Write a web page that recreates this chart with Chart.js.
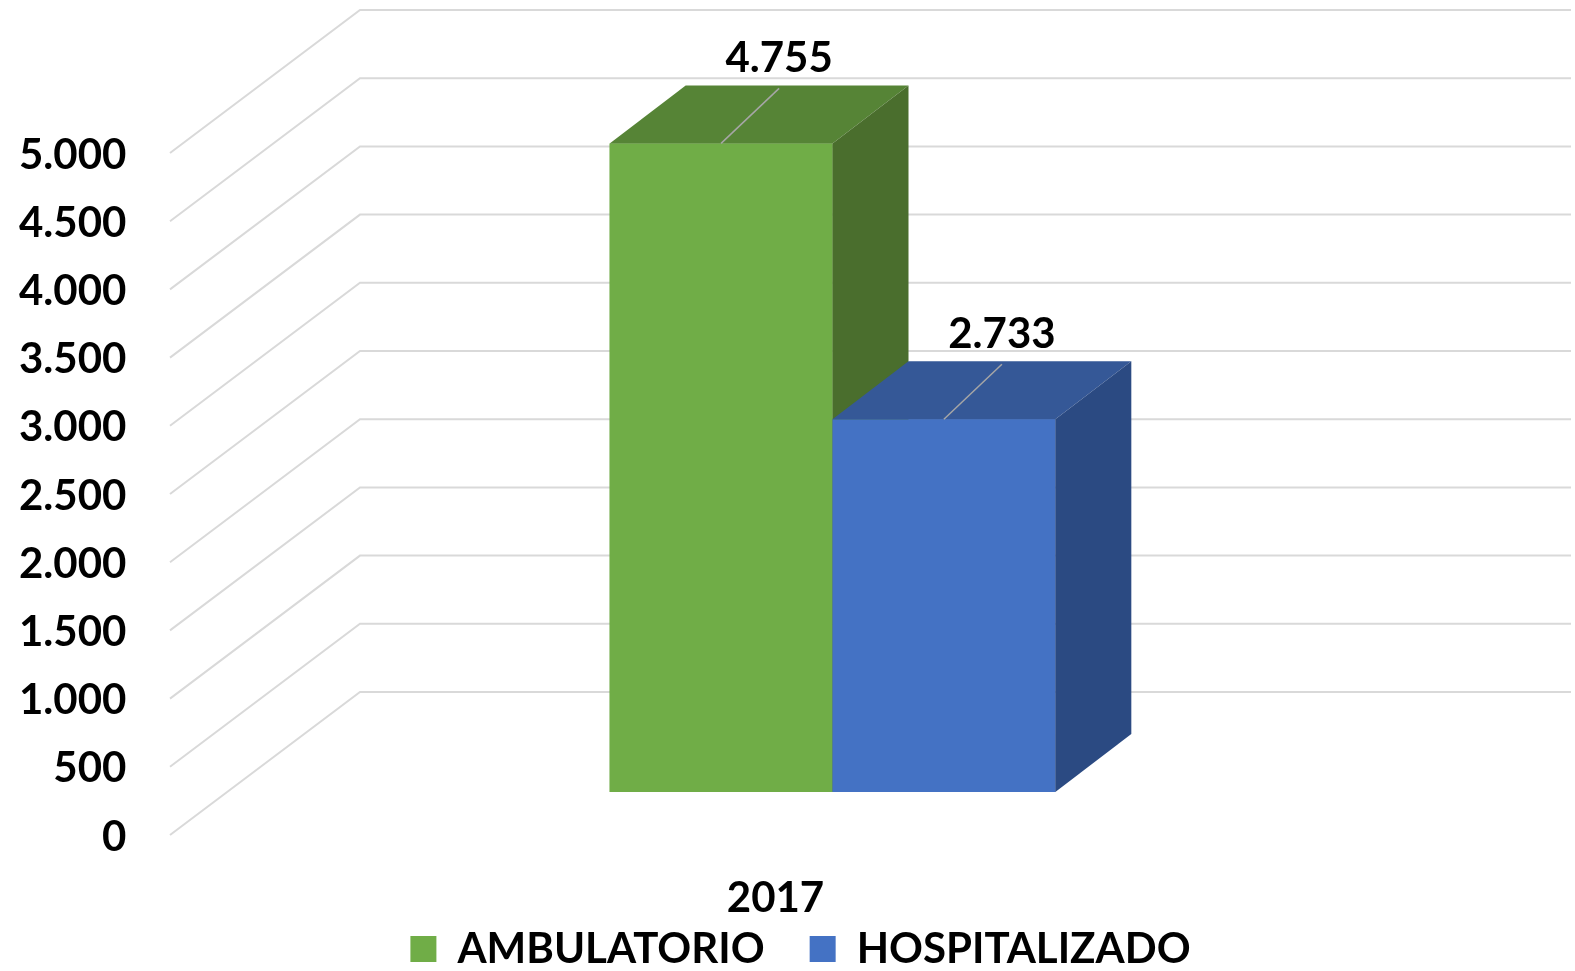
<!DOCTYPE html>
<html lang="es">
<head>
<meta charset="utf-8">
<title>Atenciones 2017</title>
<script src="https://cdn.jsdelivr.net/npm/chart.js@4/dist/chart.umd.min.js"></script>
<style>
  html, body { margin: 0; padding: 0; background: #fff; overflow: hidden; }
  #chartBox { width: 1575px; height: 971px; }
</style>
</head>
<body>
<div id="chartBox"><canvas id="atencionesChart"></canvas></div>
<script>
// datos
const years = ['2017'];
const seriesNames = ['AMBULATORIO', 'HOSPITALIZADO'];
const ambulatorio = [4755];
const hospitalizado = [2733];
const yMin = 0;
const yMax = 5000;
const yStep = 500;

// colores (frente, tapa, costado)
const greenFaces = ['#70AD47', '#568436', '#4A6E2D'];
const blueFaces = ['#4472C4', '#355897', '#2B4A82'];

// profundidad del "3D"
const barDepth = { dx: 76, dy: -58 };
const wallBack = { dx: 133, dy: -100 };
const wallFront = { dx: -57, dy: 43 };

const labelFont = { family: 'Lato', size: 42, weight: 'bold', lineHeight: 1.2 };

function formatNumber(v) {
  return String(v).replace(/\B(?=(\d{3})+(?!\d))/g, '.');
}

// lineas de la pared del fondo y del piso
const wallGrid = {
  id: 'wallGrid',
  beforeDatasetsDraw(chart) {
    const { ctx, chartArea, scales } = chart;
    ctx.save();
    ctx.strokeStyle = '#d9d9d9';
    ctx.lineWidth = 2;
    scales.y.ticks.forEach(t => {
      const y = scales.y.getPixelForValue(t.value);
      ctx.beginPath();
      ctx.moveTo(chartArea.left + wallFront.dx, y + wallFront.dy);
      ctx.lineTo(chartArea.left + wallBack.dx, y + wallBack.dy);
      ctx.lineTo(chartArea.right + wallBack.dx, y + wallBack.dy);
      ctx.stroke();
    });
    ctx.restore();
  }
};

function fillPoly(ctx, pts, color) {
  ctx.beginPath();
  ctx.moveTo(pts[0][0], pts[0][1]);
  for (let i = 1; i < pts.length; i++) ctx.lineTo(pts[i][0], pts[i][1]);
  ctx.closePath();
  ctx.fillStyle = color;
  ctx.fill();
}

// tapa y costado de cada barra, de izquierda a derecha
const bars3d = {
  id: 'bars3d',
  afterDatasetsDraw(chart) {
    const { ctx } = chart;
    const faces = [greenFaces, blueFaces];
    ctx.save();
    chart.data.datasets.forEach((ds, di) => {
      chart.getDatasetMeta(di).data.forEach(bar => {
        bar.draw(ctx);
        const left = bar.x - bar.width / 2;
        const right = bar.x + bar.width / 2;
        const top = bar.y;
        const base = bar.base;
        fillPoly(ctx, [[left, top], [right, top], [right + barDepth.dx, top + barDepth.dy], [left + barDepth.dx, top + barDepth.dy]], faces[di][1]);
        fillPoly(ctx, [[right, top], [right + barDepth.dx, top + barDepth.dy], [right + barDepth.dx, base + barDepth.dy], [right, base]], faces[di][2]);
      });
    });
    ctx.restore();
  }
};

// etiquetas de valor con linea guia
const valueLabels = {
  id: 'valueLabels',
  afterDraw(chart) {
    const { ctx } = chart;
    ctx.save();
    ctx.font = `${labelFont.weight} ${labelFont.size}px ${labelFont.family}`;
    ctx.textAlign = 'center';
    ctx.textBaseline = 'middle';
    chart.data.datasets.forEach((ds, di) => {
      chart.getDatasetMeta(di).data.forEach((bar, i) => {
        ctx.strokeStyle = '#a6a6a6';
        ctx.lineWidth = 1.5;
        ctx.beginPath();
        ctx.moveTo(bar.x, bar.y);
        ctx.lineTo(bar.x + 58, bar.y - 55);
        ctx.stroke();
        ctx.fillStyle = '#000';
        ctx.fillText(formatNumber(ds.data[i]), bar.x + 58, bar.y - 85);
      });
    });
    ctx.restore();
  }
};

Chart.defaults.color = '#000';
Chart.defaults.font.family = 'Lato';

new Chart(document.getElementById('atencionesChart'), {
  type: 'bar',
  data: {
    labels: years,
    datasets: [
      { label: seriesNames[0], data: ambulatorio, backgroundColor: greenFaces[0], borderWidth: 0 },
      { label: seriesNames[1], data: hospitalizado, backgroundColor: blueFaces[0], borderWidth: 0 }
    ]
  },
  options: {
    responsive: true,
    maintainAspectRatio: false,
    animation: false,
    layout: { padding: { top: 110, left: 163, right: 137, bottom: 0 } },
    datasets: { bar: { barPercentage: 1, categoryPercentage: 0.368 } },
    plugins: {
      tooltip: { enabled: false },
      legend: {
        position: 'bottom',
        maxHeight: 88,
        labels: { boxWidth: 26, boxHeight: 26, padding: 45, font: labelFont, color: '#000' }
      }
    },
    scales: {
      x: {
        grid: { display: false, drawTicks: false },
        border: { display: false },
        ticks: { mirror: true, padding: -132, labelOffset: -57, font: labelFont },
        afterFit(axis) { axis.height = 91; }
      },
      y: {
        min: yMin,
        max: yMax,
        grid: { display: false, drawTicks: false },
        border: { display: false },
        ticks: {
          stepSize: yStep,
          mirror: true,
          crossAlign: 'far',
          padding: -208,
          labelOffset: 45,
          autoSkip: false,
          font: labelFont,
          callback: v => formatNumber(v)
        },
        afterFit(axis) { axis.width = 64; }
      }
    }
  },
  plugins: [wallGrid, bars3d, valueLabels]
});
</script>
</body>
</html>
